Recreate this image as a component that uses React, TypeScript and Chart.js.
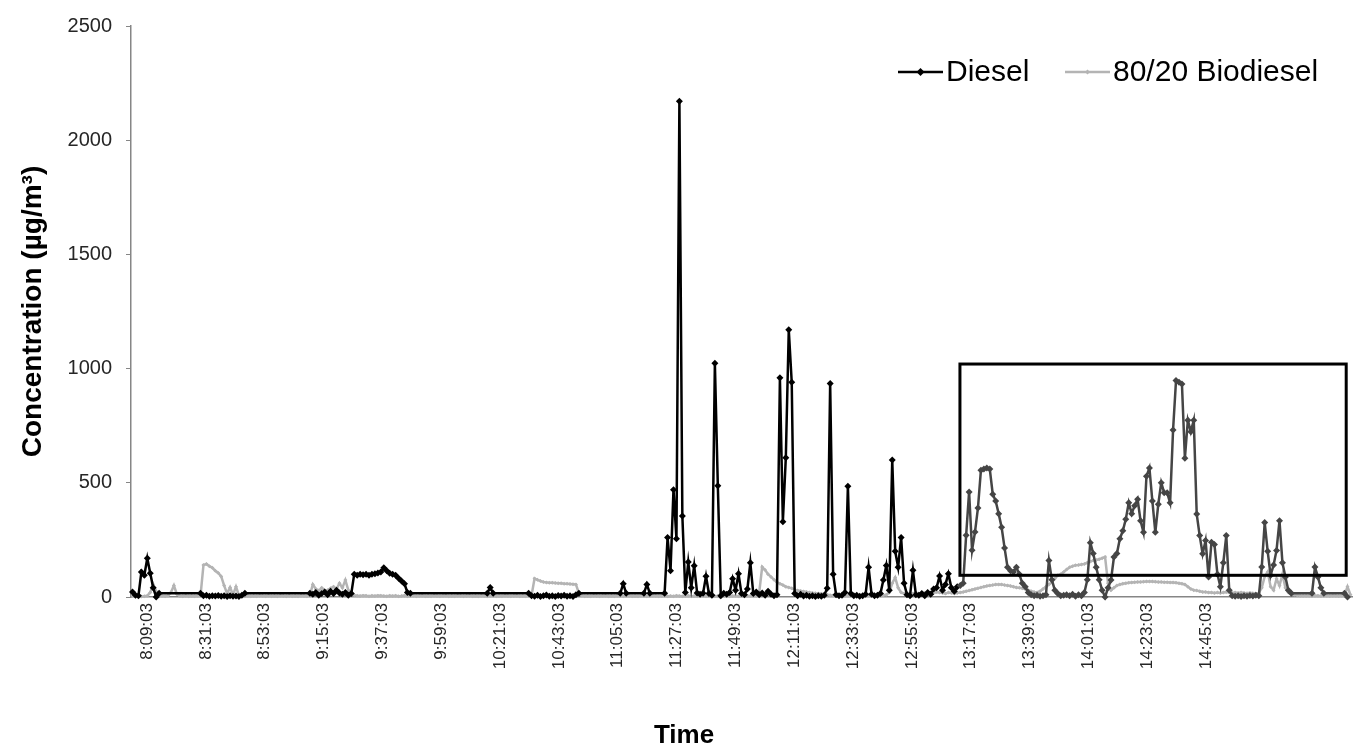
import { useEffect, useRef } from 'react';
import { Chart, registerables } from 'chart.js';

Chart.register(...registerables);

const _ = null;

// Time axis range and sampling of the readings
const AXIS_START = '8:03:03';
const AXIS_END = '15:39:40';
const SAMPLE_START = '8:03:37';
const SAMPLE_INTERVAL_SEC = 66.33;

const TICK_LABELS = [
  '8:09:03', '8:31:03', '8:53:03', '9:15:03', '9:37:03', '9:59:03', '10:21:03',
  '10:43:03', '11:05:03', '11:27:03', '11:49:03', '12:11:03', '12:33:03', '12:55:03',
  '13:17:03', '13:39:03', '14:01:03', '14:23:03', '14:45:03',
];

// Diesel concentration (µg/m³), one value per sample; null = no reading (line bridges the gap)
const DIESEL = [
  22, 8, 5, 110, 95, 170, 104, 40, 0, 16, _, _, _, _, _, _, _, _, _, _, _, _,
  _, 16, 5, 8, 3, 6, 4, 7, 3, 5, 2, 6, 3, 4, 2, 8, 16, _, _, _, _, _,
  _, _, _, _, _, _, _, _, _, _, _, _, _, _, _, _, 16, 12, 20, 8, 15, 22,
  10, 25, 15, 30, 18, 12, 20, 8, 15, 100, 95, 100, 97, 100, 95, 100, 102, 105, 110, 128, 115, 104,
  100, 95, 82, 70, 58, 20, 16, _, _, _, _, _, _, _, _, _, _, _, _, _, _,
  _, _, _, _, _, _, _, _, _, _, _, 16, 42, 16, _, _, _, _, _, _, _, _,
  _, _, _, 16, 6, 3, 8, 2, 5, 9, 3, 6, 2, 7, 4, 8, 3, 5, 2, 10, 16, _,
  _, _, _, _, _, _, _, _, _, _, _, _, 16, 58, 16, _, _, _, _, _, 16, 55,
  16, _, _, _, _, 16, 260, 115, 470, 255, 2170, 355, 20, 153, 40, 137, 18, 12, 16, 91, 15, 8,
  1023, 487, 5, 16, 12, 20, 80, 30, 102, 15, 10, 35, 150, 15, 22, 10, 18, 8, 25, 12, 6, 10,
  960, 330, 610, 1170, 940, 15, 5, 12, 4, 8, 3, 6, 2, 5, 3, 8, 38, 935, 100, 10, 5, 8,
  20, 485, 15, 5, 8, 3, 6, 12, 130, 12, 5, 8, 15, 74, 138, 30, 600, 200, 130, 261, 60, 10,
  5, 117, 10, 8, 15, 5, 20, 12, 35, 40, 92, 30, 55, 102, 40, 25, 45, 50, 60, 270, 460, 205,
  285, 390, 555, 560, 565, 560, 450, 420, 365, 305, 215, 130, 115, 110, 130, 100, 60, 45, 20, 10, 5, 8,
  3, 5, 10, 160, 75, 30, 15, 5, 8, 10, 5, 12, 3, 10, 5, 20, 75, 238, 190, 130, 75, 30,
  0, 40, 74, 175, 190, 255, 290, 340, 413, 365, 400, 428, 334, 283, 529, 565, 420, 283, 406, 500, 456, 456,
  413, 731, 948, 940, 933, 608, 774, 724, 774, 363, 269, 189, 247, 88, 240, 230, 100, 45, 150, 269, 30, 5,
  3, 6, 2, 5, 3, 7, 4, 8, 5, 131, 326, 200, 95, 140, 204, 334, 150, 88, 30, 16, _, _,
  _, _, _, _, 16, 131, 88, 40, 16, _, _, _, _, _, _, 16, 0,
];

// 80/20 Biodiesel concentration (µg/m³), one value per sample
const BIODIESEL = [
  5, 3, 4, 2, 3, 5, 20, 55, 25, 8, 4, 3, 5, 20, 50, 12, 4, 3, 5, 3, 4, 3,
  4, 6, 140, 145, 135, 128, 115, 105, 90, 50, 15, 42, 10, 45, 8, 4, 3, 5, 3, 4, 3, 5,
  4, 3, 5, 3, 4, 3, 5, 4, 3, 5, 3, 4, 3, 5, 4, 3, 8, 55, 35, 28, 40, 30,
  30, 38, 45, 35, 60, 40, 74, 30, 15, 8, 5, 4, 6, 5, 3, 5, 4, 6, 5, 4, 3, 5,
  4, 5, 3, 4, 6, 3, 4, 5, 3, 4, 5, 3, 4, 3, 5, 4, 3, 4, 5, 3, 4, 3,
  5, 4, 3, 4, 5, 3, 4, 3, 5, 4, 3, 4, 5, 3, 4, 3, 5, 4, 3, 4, 5, 3,
  4, 3, 5, 8, 81, 75, 70, 66, 64, 62, 62, 61, 60, 60, 58, 58, 57, 56, 55, 16, 5, 3,
  4, 3, 5, 4, 3, 4, 5, 3, 4, 3, 5, 4, 3, 4, 5, 3, 4, 3, 5, 4, 3, 4,
  5, 4, 3, 4, 5, 3, 4, 3, 5, 4, 3, 4, 5, 3, 4, 3, 5, 4, 3, 4, 5, 3,
  4, 3, 5, 4, 3, 4, 5, 3, 4, 3, 5, 4, 3, 4, 20, 131, 118, 100, 88, 76, 65, 58,
  52, 45, 42, 38, 32, 28, 26, 24, 22, 20, 18, 16, 15, 14, 12, 10, 8, 7, 6, 5, 6, 5,
  5, 6, 5, 7, 6, 5, 6, 8, 6, 5, 7, 6, 8, 10, 20, 60, 85, 40, 20, 15, 12, 15,
  15, 18, 15, 20, 18, 15, 20, 18, 22, 20, 18, 15, 20, 18, 15, 18, 20, 22, 25, 28, 32, 35,
  38, 42, 45, 48, 50, 52, 55, 55, 55, 52, 50, 48, 45, 42, 40, 38, 35, 30, 25, 22, 20, 25,
  35, 45, 55, 65, 80, 95, 100, 110, 120, 130, 135, 139, 140, 142, 145, 150, 155, 160, 162, 165, 170, 175,
  60, 30, 40, 50, 55, 58, 60, 62, 64, 65, 66, 66, 67, 68, 68, 68, 67, 66, 66, 65, 65, 64,
  63, 62, 60, 58, 55, 45, 35, 30, 28, 25, 22, 22, 20, 20, 18, 20, 18, 20, 22, 20, 18, 20,
  18, 20, 18, 16, 18, 16, 15, 18, 40, 90, 110, 45, 30, 80, 50, 100, 40, 20, 12, 10, 8, 6,
  5, 6, 5, 4, 6, 5, 4, 6, 5, 4, 6, 5, 4, 6, 8, 45, 10,
];

// Highlight rectangle, in data units (time and µg/m³)
const BOX_FROM = '13:13:03';
const BOX_TO = '15:37:30';
const BOX_LOW = 95;
const BOX_HIGH = 1020;

const SERIES_NAMES = ['Diesel', '80/20 Biodiesel'];

function toMinutes(t: string): number {
  const [h, m, s] = t.split(':').map(Number);
  return h * 60 + m + s / 60;
}

const SAMPLE_START_MIN = toMinutes(SAMPLE_START);
const sampleTime = (i: number) => SAMPLE_START_MIN + (i * SAMPLE_INTERVAL_SEC) / 60;
const DIESEL_POINTS = DIESEL.map((v, i) => ({ x: sampleTime(i), y: v }));
const BIO_POINTS = BIODIESEL.map((v, i) => ({ x: sampleTime(i), y: v }));
const TICK_VALUES = TICK_LABELS.map(toMinutes);
const BOX_FROM_MIN = toMinutes(BOX_FROM);

const FONT = '"Liberation Sans", Arial, Helvetica, sans-serif';
const DIESEL_COLOR = '#000000';
const DIESEL_BOX_COLOR = '#454545';
const BIO_COLOR = '#b4b4b4';

const boxPlugin = {
  id: 'highlightBox',
  afterDatasetsDraw(chart: any) {
    const { ctx, scales } = chart;
    const x0 = scales.x.getPixelForValue(toMinutes(BOX_FROM));
    const x1 = scales.x.getPixelForValue(toMinutes(BOX_TO));
    const y0 = scales.y.getPixelForValue(BOX_HIGH);
    const y1 = scales.y.getPixelForValue(BOX_LOW);
    ctx.save();
    ctx.strokeStyle = '#000';
    ctx.lineWidth = 3;
    ctx.strokeRect(x0, y0, x1 - x0, y1 - y0);
    ctx.restore();
  },
};

function diamond(ctx: CanvasRenderingContext2D, x: number, y: number, r: number) {
  ctx.beginPath();
  ctx.moveTo(x, y - r);
  ctx.lineTo(x + r, y);
  ctx.lineTo(x, y + r);
  ctx.lineTo(x - r, y);
  ctx.closePath();
  ctx.fill();
}

const legendPlugin = {
  id: 'insideLegend',
  afterDraw(chart: any) {
    const { ctx } = chart;
    const y = 72;
    const items = [
      { x: 898, color: DIESEL_COLOR, r: 4, text: SERIES_NAMES[0] },
      { x: 1065, color: BIO_COLOR, r: 2.5, text: SERIES_NAMES[1] },
    ];
    ctx.save();
    ctx.font = `30px ${FONT}`;
    ctx.textBaseline = 'middle';
    ctx.textAlign = 'left';
    items.forEach((it) => {
      ctx.strokeStyle = it.color;
      ctx.fillStyle = it.color;
      ctx.lineWidth = 2.5;
      ctx.beginPath();
      ctx.moveTo(it.x, y);
      ctx.lineTo(it.x + 45, y);
      ctx.stroke();
      diamond(ctx, it.x + 22.5, y, it.r);
      ctx.fillStyle = '#000';
      ctx.fillText(it.text, it.x + 48, y + 1);
    });
    ctx.restore();
  },
};

const xTitlePlugin = {
  id: 'xTitle',
  afterDraw(chart: any) {
    const { ctx } = chart;
    ctx.save();
    ctx.font = `bold 26px ${FONT}`;
    ctx.fillStyle = '#000';
    ctx.textAlign = 'center';
    ctx.textBaseline = 'middle';
    ctx.fillText('Time', 684, 736);
    ctx.restore();
  },
};

export default function App() {
  const canvasRef = useRef<HTMLCanvasElement | null>(null);

  useEffect(() => {
    const canvas = canvasRef.current;
    if (!canvas) return;
    Chart.defaults.font.family = FONT;

    const chart = new Chart(canvas, {
      type: 'line',
      data: {
        datasets: [
          {
            label: SERIES_NAMES[0],
            data: DIESEL_POINTS,
            borderColor: DIESEL_COLOR,
            borderWidth: 2.5,
            pointStyle: 'rectRot',
            pointRadius: 3.5,
            pointBorderWidth: 0,
            pointBackgroundColor: (c: any) => (c.raw && c.raw.x >= BOX_FROM_MIN ? DIESEL_BOX_COLOR : DIESEL_COLOR),
            segment: {
              borderColor: (c: any) => (c.p0.parsed.x >= BOX_FROM_MIN ? DIESEL_BOX_COLOR : DIESEL_COLOR),
            },
            spanGaps: true,
            tension: 0,
            clip: 8,
          } as any,
          {
            label: SERIES_NAMES[1],
            data: BIO_POINTS,
            borderColor: BIO_COLOR,
            borderWidth: 2.5,
            pointStyle: 'rectRot',
            pointRadius: 2,
            pointBorderWidth: 0,
            pointBackgroundColor: BIO_COLOR,
            tension: 0,
            clip: 8,
          } as any,
        ],
      },
      options: {
        animation: false,
        responsive: false,
        events: [],
        parsing: false,
        layout: { padding: { top: 20, right: 10, bottom: 0, left: 0 } },
        plugins: {
          legend: { display: false },
          tooltip: { enabled: false },
        },
        scales: {
          x: {
            type: 'linear',
            min: toMinutes(AXIS_START),
            max: toMinutes(AXIS_END),
            grid: { display: false, drawTicks: false },
            border: { display: true, color: '#868686', width: 1.5 },
            afterBuildTicks(scale: any) {
              scale.ticks = TICK_VALUES.map((v) => ({ value: v }));
            },
            ticks: {
              autoSkip: false,
              minRotation: 90,
              maxRotation: 90,
              padding: 6,
              color: '#262626',
              font: { size: 17 },
              callback(value: any) {
                const idx = TICK_VALUES.findIndex((v) => Math.abs(v - value) < 1e-6);
                return idx >= 0 ? TICK_LABELS[idx] : null;
              },
            },
            afterFit(scale: any) {
              scale.height = 156;
            },
          },
          y: {
            min: 0,
            max: 2500,
            ticks: {
              stepSize: 500,
              padding: 14,
              color: '#262626',
              font: { size: 20 },
              callback: (v: any) => String(v),
            },
            grid: { drawOnChartArea: false, drawTicks: true, tickLength: 5, color: '#868686' },
            border: { display: true, color: '#868686', width: 1.5 },
            title: {
              display: true,
              text: 'Concentration (µg/m³)',
              color: '#000',
              font: { size: 28, weight: 'bold' },
              padding: { top: 16, bottom: 0 },
            },
            afterFit(scale: any) {
              scale.width = 131;
            },
          },
        },
      } as any,
      plugins: [boxPlugin, legendPlugin, xTitlePlugin],
    });

    return () => chart.destroy();
  }, []);

  return (
    <div style={{ position: 'fixed', left: 0, top: 0, width: 1362, height: 753, background: '#fff' }}>
      <canvas ref={canvasRef} width={1362} height={753} style={{ display: 'block' }} />
    </div>
  );
}
